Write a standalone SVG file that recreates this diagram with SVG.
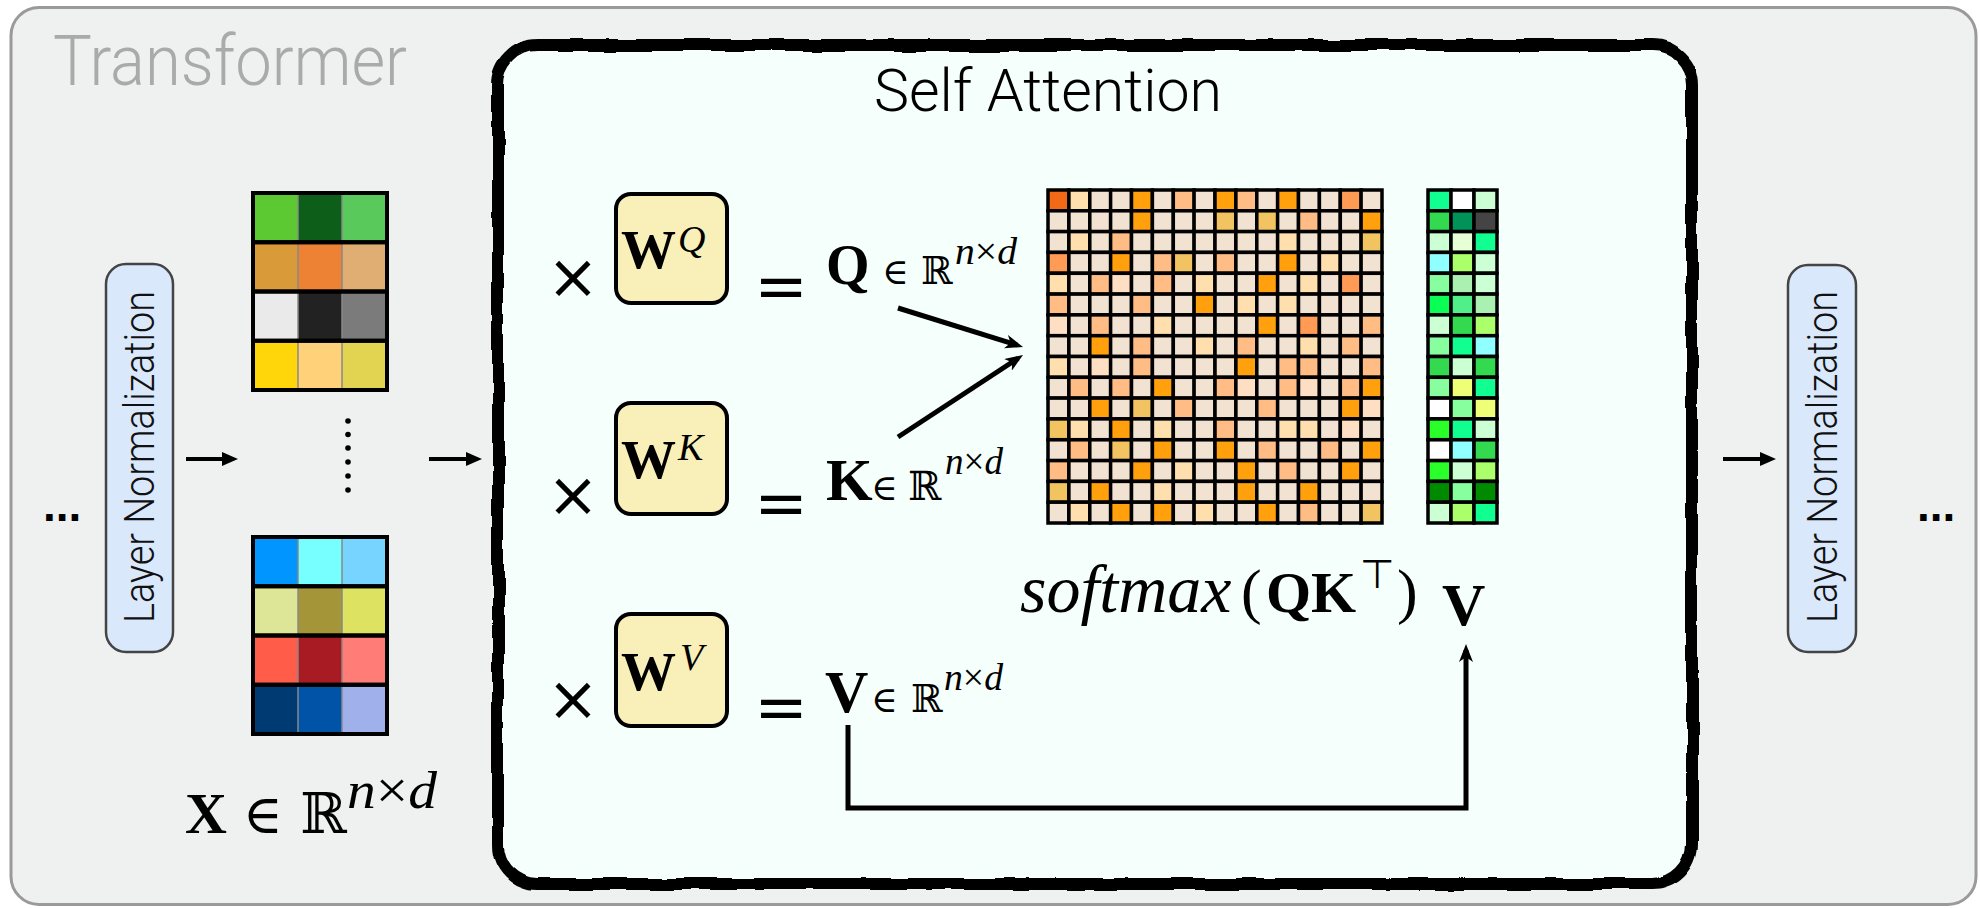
<svg xmlns="http://www.w3.org/2000/svg" width="1980" height="908" viewBox="0 0 1980 908">
<style>
.outer{fill:#eff0f0;stroke:#9a9a9a;stroke-width:3}
.safill{fill:#f5fffb}
.saborder{fill:none;stroke:#000;stroke-width:12}
.ln{fill:#dae8fc;stroke:#444;stroke-width:2.5}
.lntxt{font-family:Roboto,"Liberation Sans",sans-serif;font-weight:300;font-size:42px;fill:#111}
.wbox{fill:#f9efb8;stroke:#000;stroke-width:4}
.bold{font-family:"Liberation Serif","DejaVu Serif",serif;font-weight:bold;fill:#000}
.it{font-family:"Liberation Serif","DejaVu Serif",serif;font-style:italic;fill:#000}
.sym{font-family:"DejaVu Sans",sans-serif;fill:#000}
.dsym{font-family:"DejaVu Serif",serif;fill:#000}
.am rect{stroke:#000;stroke-width:3.5}
.xm rect.cell{stroke:none}
.xm rect.row{fill:none;stroke:#000;stroke-width:4}
.xm line{stroke:#888;stroke-width:1.5}
.L{fill:#f2e2d2}.P{fill:#ffdfae}.S{fill:#ffbc84}.O{fill:#ffa00c}.Y{fill:#f2c461}.D{fill:#ff9b55}.R{fill:#f26a18}.Q{fill:#ffdfc4}
.sg{fill:#10ff90}.wh{fill:#ffffff}.pg{fill:#ccffd4}.mg{fill:#33d94f}.dg{fill:#009258}.gy{fill:#444444}.lg{fill:#e6ffd6}.cy{fill:#90ffff}.ch{fill:#aaff6a}.mt{fill:#88ff9e}.sa{fill:#aaf0b0}.br{fill:#0aff55}.md{fill:#50ef8a}.ye{fill:#eeff77}.lm{fill:#2aff2a}.fo{fill:#008a00}
.conn line,.conn path{fill:none;stroke:#000}
</style>
<defs>
<marker id="tri" markerUnits="userSpaceOnUse" viewBox="0 0 16 14" markerWidth="16" markerHeight="14" refX="11" refY="7" orient="auto"><path d="M0,0 L16,7 L0,14 z" fill="#000"/></marker>
<marker id="stealth" markerUnits="userSpaceOnUse" viewBox="0 0 18 14" markerWidth="18" markerHeight="14" refX="12" refY="7" orient="auto"><path d="M0,0 L18,7 L0,14 L5,7 z" fill="#000"/></marker>
<filter id="rough" x="-5%" y="-5%" width="110%" height="110%"><feTurbulence type="fractalNoise" baseFrequency="0.025" numOctaves="2" seed="3"/><feDisplacementMap in="SourceGraphic" scale="6" xChannelSelector="R" yChannelSelector="G"/></filter>
</defs>

<g id="transformer">
<rect class="outer" x="11" y="7.5" width="1965" height="897" rx="28"/>
<text x="53" y="85" font-family="Roboto,'Liberation Sans',sans-serif" font-weight="300" font-size="70" fill="#aaaaaa" textLength="354" lengthAdjust="spacingAndGlyphs">Transformer</text>
</g>

<g id="dots-left"><text x="43" y="521" font-family="'Liberation Sans',sans-serif" font-weight="bold" font-size="46" fill="#000">...</text></g>
<g id="dots-right"><text x="1917" y="521" font-family="'Liberation Sans',sans-serif" font-weight="bold" font-size="46" fill="#000">...</text></g>

<g id="layernorm-left">
<rect class="ln" x="106" y="264" width="67" height="388" rx="20"/>
<text class="lntxt" transform="translate(154,457) rotate(-90)" text-anchor="middle" textLength="332" lengthAdjust="spacingAndGlyphs">Layer Normalization</text>
</g>
<g id="layernorm-right">
<rect class="ln" x="1788" y="265" width="68" height="387" rx="20"/>
<text class="lntxt" transform="translate(1837,457) rotate(-90)" text-anchor="middle" textLength="332" lengthAdjust="spacingAndGlyphs">Layer Normalization</text>
</g>

<g id="x-matrix" class="xm">
<g>
<rect class="cell" x="253" y="193" width="45" height="49.25" fill="#5dc932"/><rect class="cell" x="298" y="193" width="44" height="49.25" fill="#0d5e18"/><rect class="cell" x="342" y="193" width="45" height="49.25" fill="#58c95a"/>
<rect class="cell" x="253" y="242.25" width="45" height="49.25" fill="#d99a3a"/><rect class="cell" x="298" y="242.25" width="44" height="49.25" fill="#ed8235"/><rect class="cell" x="342" y="242.25" width="45" height="49.25" fill="#e0ae72"/>
<rect class="cell" x="253" y="291.5" width="45" height="49.25" fill="#eaeaea"/><rect class="cell" x="298" y="291.5" width="44" height="49.25" fill="#222222"/><rect class="cell" x="342" y="291.5" width="45" height="49.25" fill="#7b7b7b"/>
<rect class="cell" x="253" y="340.75" width="45" height="49.25" fill="#ffd60a"/><rect class="cell" x="298" y="340.75" width="44" height="49.25" fill="#ffd27a"/><rect class="cell" x="342" y="340.75" width="45" height="49.25" fill="#e2d451"/>
<line x1="298" y1="193" x2="298" y2="390"/><line x1="342" y1="193" x2="342" y2="390"/>
<rect class="row" x="253" y="193" width="134" height="49.25"/><rect class="row" x="253" y="242.25" width="134" height="49.25"/><rect class="row" x="253" y="291.5" width="134" height="49.25"/><rect class="row" x="253" y="340.75" width="134" height="49.25"/>
</g>
<g fill="#000">
<circle cx="348" cy="421" r="2.8"/><circle cx="348" cy="434.5" r="2.8"/><circle cx="348" cy="448" r="2.8"/><circle cx="348" cy="462" r="2.8"/><circle cx="348" cy="476" r="2.8"/><circle cx="348" cy="490" r="2.8"/>
</g>
<g>
<rect class="cell" x="253" y="537" width="45" height="49.25" fill="#0095ff"/><rect class="cell" x="298" y="537" width="44" height="49.25" fill="#77ffff"/><rect class="cell" x="342" y="537" width="45" height="49.25" fill="#77d4ff"/>
<rect class="cell" x="253" y="586.25" width="45" height="49.25" fill="#dce696"/><rect class="cell" x="298" y="586.25" width="44" height="49.25" fill="#a39538"/><rect class="cell" x="342" y="586.25" width="45" height="49.25" fill="#dde360"/>
<rect class="cell" x="253" y="635.5" width="45" height="49.25" fill="#ff5c4a"/><rect class="cell" x="298" y="635.5" width="44" height="49.25" fill="#a91b22"/><rect class="cell" x="342" y="635.5" width="45" height="49.25" fill="#ff7c77"/>
<rect class="cell" x="253" y="684.75" width="45" height="49.25" fill="#003a73"/><rect class="cell" x="298" y="684.75" width="44" height="49.25" fill="#0053a6"/><rect class="cell" x="342" y="684.75" width="45" height="49.25" fill="#a0b0ea"/>
<line x1="298" y1="537" x2="298" y2="734"/><line x1="342" y1="537" x2="342" y2="734"/>
<rect class="row" x="253" y="537" width="134" height="49.25"/><rect class="row" x="253" y="586.25" width="134" height="49.25"/><rect class="row" x="253" y="635.5" width="134" height="49.25"/><rect class="row" x="253" y="684.75" width="134" height="49.25"/>
</g>
<text y="833"><tspan class="bold" x="185" font-size="58">X</tspan><tspan class="dsym" x="243" font-size="54">∈</tspan><tspan class="dsym" x="300" font-size="56">ℝ</tspan></text>
<text class="it" x="347" y="808" font-size="52" textLength="90" lengthAdjust="spacingAndGlyphs">n<tspan font-style="normal">×</tspan>d</text>
</g>

<g id="self-attention">
<rect class="safill" x="498" y="45" width="1194" height="839" rx="40"/>
<rect class="saborder" x="498" y="45" width="1194" height="839" rx="40" filter="url(#rough)"/>
<text x="874" y="111" font-family="Roboto,'Liberation Sans',sans-serif" font-weight="300" font-size="59" fill="#000" textLength="348" lengthAdjust="spacingAndGlyphs">Self Attention</text>
</g>

<g id="wq">
<text class="sym" x="573" y="298" font-size="62" text-anchor="middle">×</text>
<rect class="wbox" x="616" y="194" width="111" height="109" rx="15"/>
<text class="bold" x="621" y="268" font-size="55">W</text><text class="it" x="678" y="252" font-size="38">Q</text>
<text class="sym" x="781" y="308" font-size="64" text-anchor="middle">=</text>
</g>
<g id="q">
<text y="284"><tspan class="bold" x="826" font-size="56">Q</tspan><tspan class="dsym" x="882" font-size="36">∈</tspan><tspan class="dsym" x="921" font-size="38">ℝ</tspan></text>
<text class="it" x="955" y="264" font-size="38" textLength="62" lengthAdjust="spacingAndGlyphs">n<tspan font-style="normal">×</tspan>d</text>
</g>

<g id="wk">
<text class="sym" x="573" y="516" font-size="62" text-anchor="middle">×</text>
<rect class="wbox" x="616" y="403" width="111" height="111" rx="15"/>
<text class="bold" x="621" y="478" font-size="55">W</text><text class="it" x="678" y="460" font-size="38">K</text>
<text class="sym" x="781" y="525" font-size="64" text-anchor="middle">=</text>
</g>
<g id="k">
<text y="500"><tspan class="bold" x="826" font-size="60">K</tspan><tspan class="dsym" x="871" font-size="36">∈</tspan><tspan class="dsym" x="908" font-size="40">ℝ</tspan></text>
<text class="it" x="945" y="474" font-size="38" textLength="58" lengthAdjust="spacingAndGlyphs">n<tspan font-style="normal">×</tspan>d</text>
</g>

<g id="wv">
<text class="sym" x="573" y="720" font-size="62" text-anchor="middle">×</text>
<rect class="wbox" x="616" y="614" width="111" height="112" rx="15"/>
<text class="bold" x="621" y="690" font-size="55">W</text><text class="it" x="680" y="670" font-size="38">V</text>
<text class="sym" x="781" y="729" font-size="64" text-anchor="middle">=</text>
</g>
<g id="v">
<text y="712"><tspan class="bold" x="825" font-size="60">V</tspan><tspan class="dsym" x="871" font-size="36">∈</tspan><tspan class="dsym" x="911" font-size="38">ℝ</tspan></text>
<text class="it" x="944" y="690" font-size="38" textLength="59" lengthAdjust="spacingAndGlyphs">n<tspan font-style="normal">×</tspan>d</text>
</g>

<g id="attention-matrix" class="am">
<g transform="translate(1048,190)"><rect x="0" width="20.9" height="20.8" class="R"/><rect x="20.9" width="20.9" height="20.8" class="P"/><rect x="41.8" width="20.9" height="20.8" class="L"/><rect x="62.6" width="20.9" height="20.8" class="L"/><rect x="83.5" width="20.9" height="20.8" class="O"/><rect x="104.4" width="20.9" height="20.8" class="L"/><rect x="125.3" width="20.9" height="20.8" class="S"/><rect x="146.1" width="20.9" height="20.8" class="L"/><rect x="167" width="20.9" height="20.8" class="O"/><rect x="187.9" width="20.9" height="20.8" class="S"/><rect x="208.8" width="20.9" height="20.8" class="L"/><rect x="229.6" width="20.9" height="20.8" class="O"/><rect x="250.5" width="20.9" height="20.8" class="L"/><rect x="271.4" width="20.9" height="20.8" class="L"/><rect x="292.3" width="20.9" height="20.8" class="D"/><rect x="313.1" width="20.9" height="20.8" class="L"/></g>
<g transform="translate(1048,210.8)"><rect x="0" width="20.9" height="20.8" class="L"/><rect x="20.9" width="20.9" height="20.8" class="L"/><rect x="41.8" width="20.9" height="20.8" class="L"/><rect x="62.6" width="20.9" height="20.8" class="L"/><rect x="83.5" width="20.9" height="20.8" class="O"/><rect x="104.4" width="20.9" height="20.8" class="L"/><rect x="125.3" width="20.9" height="20.8" class="L"/><rect x="146.1" width="20.9" height="20.8" class="L"/><rect x="167" width="20.9" height="20.8" class="Y"/><rect x="187.9" width="20.9" height="20.8" class="L"/><rect x="208.8" width="20.9" height="20.8" class="Y"/><rect x="229.6" width="20.9" height="20.8" class="L"/><rect x="250.5" width="20.9" height="20.8" class="S"/><rect x="271.4" width="20.9" height="20.8" class="L"/><rect x="292.3" width="20.9" height="20.8" class="L"/><rect x="313.1" width="20.9" height="20.8" class="O"/></g>
<g transform="translate(1048,231.6)"><rect x="0" width="20.9" height="20.8" class="L"/><rect x="20.9" width="20.9" height="20.8" class="P"/><rect x="41.8" width="20.9" height="20.8" class="L"/><rect x="62.6" width="20.9" height="20.8" class="S"/><rect x="83.5" width="20.9" height="20.8" class="L"/><rect x="104.4" width="20.9" height="20.8" class="L"/><rect x="125.3" width="20.9" height="20.8" class="L"/><rect x="146.1" width="20.9" height="20.8" class="L"/><rect x="167" width="20.9" height="20.8" class="L"/><rect x="187.9" width="20.9" height="20.8" class="L"/><rect x="208.8" width="20.9" height="20.8" class="L"/><rect x="229.6" width="20.9" height="20.8" class="P"/><rect x="250.5" width="20.9" height="20.8" class="L"/><rect x="271.4" width="20.9" height="20.8" class="L"/><rect x="292.3" width="20.9" height="20.8" class="L"/><rect x="313.1" width="20.9" height="20.8" class="Y"/></g>
<g transform="translate(1048,252.4)"><rect x="0" width="20.9" height="20.8" class="D"/><rect x="20.9" width="20.9" height="20.8" class="L"/><rect x="41.8" width="20.9" height="20.8" class="L"/><rect x="62.6" width="20.9" height="20.8" class="O"/><rect x="83.5" width="20.9" height="20.8" class="L"/><rect x="104.4" width="20.9" height="20.8" class="S"/><rect x="125.3" width="20.9" height="20.8" class="Y"/><rect x="146.1" width="20.9" height="20.8" class="L"/><rect x="167" width="20.9" height="20.8" class="S"/><rect x="187.9" width="20.9" height="20.8" class="L"/><rect x="208.8" width="20.9" height="20.8" class="L"/><rect x="229.6" width="20.9" height="20.8" class="O"/><rect x="250.5" width="20.9" height="20.8" class="L"/><rect x="271.4" width="20.9" height="20.8" class="P"/><rect x="292.3" width="20.9" height="20.8" class="L"/><rect x="313.1" width="20.9" height="20.8" class="L"/></g>
<g transform="translate(1048,273.3)"><rect x="0" width="20.9" height="20.8" class="P"/><rect x="20.9" width="20.9" height="20.8" class="L"/><rect x="41.8" width="20.9" height="20.8" class="S"/><rect x="62.6" width="20.9" height="20.8" class="Q"/><rect x="83.5" width="20.9" height="20.8" class="L"/><rect x="104.4" width="20.9" height="20.8" class="S"/><rect x="125.3" width="20.9" height="20.8" class="L"/><rect x="146.1" width="20.9" height="20.8" class="P"/><rect x="167" width="20.9" height="20.8" class="L"/><rect x="187.9" width="20.9" height="20.8" class="L"/><rect x="208.8" width="20.9" height="20.8" class="O"/><rect x="229.6" width="20.9" height="20.8" class="L"/><rect x="250.5" width="20.9" height="20.8" class="P"/><rect x="271.4" width="20.9" height="20.8" class="L"/><rect x="292.3" width="20.9" height="20.8" class="D"/><rect x="313.1" width="20.9" height="20.8" class="L"/></g>
<g transform="translate(1048,294.1)"><rect x="0" width="20.9" height="20.8" class="S"/><rect x="20.9" width="20.9" height="20.8" class="L"/><rect x="41.8" width="20.9" height="20.8" class="L"/><rect x="62.6" width="20.9" height="20.8" class="L"/><rect x="83.5" width="20.9" height="20.8" class="S"/><rect x="104.4" width="20.9" height="20.8" class="L"/><rect x="125.3" width="20.9" height="20.8" class="L"/><rect x="146.1" width="20.9" height="20.8" class="O"/><rect x="167" width="20.9" height="20.8" class="L"/><rect x="187.9" width="20.9" height="20.8" class="P"/><rect x="208.8" width="20.9" height="20.8" class="L"/><rect x="229.6" width="20.9" height="20.8" class="P"/><rect x="250.5" width="20.9" height="20.8" class="L"/><rect x="271.4" width="20.9" height="20.8" class="L"/><rect x="292.3" width="20.9" height="20.8" class="L"/><rect x="313.1" width="20.9" height="20.8" class="L"/></g>
<g transform="translate(1048,314.9)"><rect x="0" width="20.9" height="20.8" class="Q"/><rect x="20.9" width="20.9" height="20.8" class="L"/><rect x="41.8" width="20.9" height="20.8" class="S"/><rect x="62.6" width="20.9" height="20.8" class="L"/><rect x="83.5" width="20.9" height="20.8" class="L"/><rect x="104.4" width="20.9" height="20.8" class="P"/><rect x="125.3" width="20.9" height="20.8" class="L"/><rect x="146.1" width="20.9" height="20.8" class="L"/><rect x="167" width="20.9" height="20.8" class="L"/><rect x="187.9" width="20.9" height="20.8" class="L"/><rect x="208.8" width="20.9" height="20.8" class="O"/><rect x="229.6" width="20.9" height="20.8" class="L"/><rect x="250.5" width="20.9" height="20.8" class="D"/><rect x="271.4" width="20.9" height="20.8" class="L"/><rect x="292.3" width="20.9" height="20.8" class="L"/><rect x="313.1" width="20.9" height="20.8" class="S"/></g>
<g transform="translate(1048,335.7)"><rect x="0" width="20.9" height="20.8" class="L"/><rect x="20.9" width="20.9" height="20.8" class="L"/><rect x="41.8" width="20.9" height="20.8" class="O"/><rect x="62.6" width="20.9" height="20.8" class="L"/><rect x="83.5" width="20.9" height="20.8" class="S"/><rect x="104.4" width="20.9" height="20.8" class="L"/><rect x="125.3" width="20.9" height="20.8" class="L"/><rect x="146.1" width="20.9" height="20.8" class="P"/><rect x="167" width="20.9" height="20.8" class="L"/><rect x="187.9" width="20.9" height="20.8" class="S"/><rect x="208.8" width="20.9" height="20.8" class="L"/><rect x="229.6" width="20.9" height="20.8" class="L"/><rect x="250.5" width="20.9" height="20.8" class="P"/><rect x="271.4" width="20.9" height="20.8" class="L"/><rect x="292.3" width="20.9" height="20.8" class="S"/><rect x="313.1" width="20.9" height="20.8" class="L"/></g>
<g transform="translate(1048,356.5)"><rect x="0" width="20.9" height="20.8" class="P"/><rect x="20.9" width="20.9" height="20.8" class="L"/><rect x="41.8" width="20.9" height="20.8" class="Q"/><rect x="62.6" width="20.9" height="20.8" class="L"/><rect x="83.5" width="20.9" height="20.8" class="S"/><rect x="104.4" width="20.9" height="20.8" class="L"/><rect x="125.3" width="20.9" height="20.8" class="L"/><rect x="146.1" width="20.9" height="20.8" class="L"/><rect x="167" width="20.9" height="20.8" class="L"/><rect x="187.9" width="20.9" height="20.8" class="O"/><rect x="208.8" width="20.9" height="20.8" class="L"/><rect x="229.6" width="20.9" height="20.8" class="S"/><rect x="250.5" width="20.9" height="20.8" class="S"/><rect x="271.4" width="20.9" height="20.8" class="L"/><rect x="292.3" width="20.9" height="20.8" class="L"/><rect x="313.1" width="20.9" height="20.8" class="S"/></g>
<g transform="translate(1048,377.3)"><rect x="0" width="20.9" height="20.8" class="L"/><rect x="20.9" width="20.9" height="20.8" class="S"/><rect x="41.8" width="20.9" height="20.8" class="L"/><rect x="62.6" width="20.9" height="20.8" class="S"/><rect x="83.5" width="20.9" height="20.8" class="L"/><rect x="104.4" width="20.9" height="20.8" class="O"/><rect x="125.3" width="20.9" height="20.8" class="L"/><rect x="146.1" width="20.9" height="20.8" class="L"/><rect x="167" width="20.9" height="20.8" class="S"/><rect x="187.9" width="20.9" height="20.8" class="Q"/><rect x="208.8" width="20.9" height="20.8" class="L"/><rect x="229.6" width="20.9" height="20.8" class="S"/><rect x="250.5" width="20.9" height="20.8" class="Q"/><rect x="271.4" width="20.9" height="20.8" class="L"/><rect x="292.3" width="20.9" height="20.8" class="S"/><rect x="313.1" width="20.9" height="20.8" class="O"/></g>
<g transform="translate(1048,398.1)"><rect x="0" width="20.9" height="20.8" class="L"/><rect x="20.9" width="20.9" height="20.8" class="L"/><rect x="41.8" width="20.9" height="20.8" class="O"/><rect x="62.6" width="20.9" height="20.8" class="L"/><rect x="83.5" width="20.9" height="20.8" class="Y"/><rect x="104.4" width="20.9" height="20.8" class="L"/><rect x="125.3" width="20.9" height="20.8" class="S"/><rect x="146.1" width="20.9" height="20.8" class="L"/><rect x="167" width="20.9" height="20.8" class="L"/><rect x="187.9" width="20.9" height="20.8" class="L"/><rect x="208.8" width="20.9" height="20.8" class="S"/><rect x="229.6" width="20.9" height="20.8" class="L"/><rect x="250.5" width="20.9" height="20.8" class="L"/><rect x="271.4" width="20.9" height="20.8" class="L"/><rect x="292.3" width="20.9" height="20.8" class="O"/><rect x="313.1" width="20.9" height="20.8" class="Q"/></g>
<g transform="translate(1048,418.9)"><rect x="0" width="20.9" height="20.8" class="Y"/><rect x="20.9" width="20.9" height="20.8" class="P"/><rect x="41.8" width="20.9" height="20.8" class="L"/><rect x="62.6" width="20.9" height="20.8" class="O"/><rect x="83.5" width="20.9" height="20.8" class="L"/><rect x="104.4" width="20.9" height="20.8" class="P"/><rect x="125.3" width="20.9" height="20.8" class="L"/><rect x="146.1" width="20.9" height="20.8" class="L"/><rect x="167" width="20.9" height="20.8" class="S"/><rect x="187.9" width="20.9" height="20.8" class="L"/><rect x="208.8" width="20.9" height="20.8" class="L"/><rect x="229.6" width="20.9" height="20.8" class="P"/><rect x="250.5" width="20.9" height="20.8" class="P"/><rect x="271.4" width="20.9" height="20.8" class="L"/><rect x="292.3" width="20.9" height="20.8" class="Q"/><rect x="313.1" width="20.9" height="20.8" class="L"/></g>
<g transform="translate(1048,439.8)"><rect x="0" width="20.9" height="20.8" class="L"/><rect x="20.9" width="20.9" height="20.8" class="S"/><rect x="41.8" width="20.9" height="20.8" class="L"/><rect x="62.6" width="20.9" height="20.8" class="Y"/><rect x="83.5" width="20.9" height="20.8" class="L"/><rect x="104.4" width="20.9" height="20.8" class="O"/><rect x="125.3" width="20.9" height="20.8" class="L"/><rect x="146.1" width="20.9" height="20.8" class="L"/><rect x="167" width="20.9" height="20.8" class="O"/><rect x="187.9" width="20.9" height="20.8" class="L"/><rect x="208.8" width="20.9" height="20.8" class="S"/><rect x="229.6" width="20.9" height="20.8" class="L"/><rect x="250.5" width="20.9" height="20.8" class="L"/><rect x="271.4" width="20.9" height="20.8" class="S"/><rect x="292.3" width="20.9" height="20.8" class="L"/><rect x="313.1" width="20.9" height="20.8" class="O"/></g>
<g transform="translate(1048,460.6)"><rect x="0" width="20.9" height="20.8" class="S"/><rect x="20.9" width="20.9" height="20.8" class="L"/><rect x="41.8" width="20.9" height="20.8" class="L"/><rect x="62.6" width="20.9" height="20.8" class="L"/><rect x="83.5" width="20.9" height="20.8" class="O"/><rect x="104.4" width="20.9" height="20.8" class="L"/><rect x="125.3" width="20.9" height="20.8" class="P"/><rect x="146.1" width="20.9" height="20.8" class="L"/><rect x="167" width="20.9" height="20.8" class="L"/><rect x="187.9" width="20.9" height="20.8" class="O"/><rect x="208.8" width="20.9" height="20.8" class="L"/><rect x="229.6" width="20.9" height="20.8" class="S"/><rect x="250.5" width="20.9" height="20.8" class="L"/><rect x="271.4" width="20.9" height="20.8" class="L"/><rect x="292.3" width="20.9" height="20.8" class="O"/><rect x="313.1" width="20.9" height="20.8" class="L"/></g>
<g transform="translate(1048,481.4)"><rect x="0" width="20.9" height="20.8" class="Y"/><rect x="20.9" width="20.9" height="20.8" class="L"/><rect x="41.8" width="20.9" height="20.8" class="O"/><rect x="62.6" width="20.9" height="20.8" class="L"/><rect x="83.5" width="20.9" height="20.8" class="L"/><rect x="104.4" width="20.9" height="20.8" class="P"/><rect x="125.3" width="20.9" height="20.8" class="L"/><rect x="146.1" width="20.9" height="20.8" class="L"/><rect x="167" width="20.9" height="20.8" class="L"/><rect x="187.9" width="20.9" height="20.8" class="O"/><rect x="208.8" width="20.9" height="20.8" class="L"/><rect x="229.6" width="20.9" height="20.8" class="L"/><rect x="250.5" width="20.9" height="20.8" class="O"/><rect x="271.4" width="20.9" height="20.8" class="L"/><rect x="292.3" width="20.9" height="20.8" class="L"/><rect x="313.1" width="20.9" height="20.8" class="L"/></g>
<g transform="translate(1048,502.2)"><rect x="0" width="20.9" height="20.8" class="L"/><rect x="20.9" width="20.9" height="20.8" class="P"/><rect x="41.8" width="20.9" height="20.8" class="L"/><rect x="62.6" width="20.9" height="20.8" class="O"/><rect x="83.5" width="20.9" height="20.8" class="L"/><rect x="104.4" width="20.9" height="20.8" class="O"/><rect x="125.3" width="20.9" height="20.8" class="L"/><rect x="146.1" width="20.9" height="20.8" class="P"/><rect x="167" width="20.9" height="20.8" class="L"/><rect x="187.9" width="20.9" height="20.8" class="L"/><rect x="208.8" width="20.9" height="20.8" class="O"/><rect x="229.6" width="20.9" height="20.8" class="L"/><rect x="250.5" width="20.9" height="20.8" class="S"/><rect x="271.4" width="20.9" height="20.8" class="L"/><rect x="292.3" width="20.9" height="20.8" class="L"/><rect x="313.1" width="20.9" height="20.8" class="Y"/></g>
</g>

<g id="value-matrix" class="am">
<g transform="translate(1428,190)"><rect x="0" width="23" height="20.8" class="sg"/><rect x="23" width="23" height="20.8" class="wh"/><rect x="46" width="23" height="20.8" class="pg"/></g>
<g transform="translate(1428,210.8)"><rect x="0" width="23" height="20.8" class="mg"/><rect x="23" width="23" height="20.8" class="dg"/><rect x="46" width="23" height="20.8" class="gy"/></g>
<g transform="translate(1428,231.6)"><rect x="0" width="23" height="20.8" class="pg"/><rect x="23" width="23" height="20.8" class="lg"/><rect x="46" width="23" height="20.8" class="sg"/></g>
<g transform="translate(1428,252.4)"><rect x="0" width="23" height="20.8" class="cy"/><rect x="23" width="23" height="20.8" class="ch"/><rect x="46" width="23" height="20.8" class="pg"/></g>
<g transform="translate(1428,273.3)"><rect x="0" width="23" height="20.8" class="mt"/><rect x="23" width="23" height="20.8" class="sa"/><rect x="46" width="23" height="20.8" class="pg"/></g>
<g transform="translate(1428,294.1)"><rect x="0" width="23" height="20.8" class="br"/><rect x="23" width="23" height="20.8" class="md"/><rect x="46" width="23" height="20.8" class="sa"/></g>
<g transform="translate(1428,314.9)"><rect x="0" width="23" height="20.8" class="pg"/><rect x="23" width="23" height="20.8" class="mg"/><rect x="46" width="23" height="20.8" class="ch"/></g>
<g transform="translate(1428,335.7)"><rect x="0" width="23" height="20.8" class="mt"/><rect x="23" width="23" height="20.8" class="sg"/><rect x="46" width="23" height="20.8" class="cy"/></g>
<g transform="translate(1428,356.5)"><rect x="0" width="23" height="20.8" class="mg"/><rect x="23" width="23" height="20.8" class="pg"/><rect x="46" width="23" height="20.8" class="mg"/></g>
<g transform="translate(1428,377.3)"><rect x="0" width="23" height="20.8" class="mt"/><rect x="23" width="23" height="20.8" class="ye"/><rect x="46" width="23" height="20.8" class="sg"/></g>
<g transform="translate(1428,398.1)"><rect x="0" width="23" height="20.8" class="wh"/><rect x="23" width="23" height="20.8" class="mt"/><rect x="46" width="23" height="20.8" class="ye"/></g>
<g transform="translate(1428,418.9)"><rect x="0" width="23" height="20.8" class="lm"/><rect x="23" width="23" height="20.8" class="sg"/><rect x="46" width="23" height="20.8" class="pg"/></g>
<g transform="translate(1428,439.8)"><rect x="0" width="23" height="20.8" class="wh"/><rect x="23" width="23" height="20.8" class="cy"/><rect x="46" width="23" height="20.8" class="mg"/></g>
<g transform="translate(1428,460.6)"><rect x="0" width="23" height="20.8" class="lm"/><rect x="23" width="23" height="20.8" class="pg"/><rect x="46" width="23" height="20.8" class="ch"/></g>
<g transform="translate(1428,481.4)"><rect x="0" width="23" height="20.8" class="fo"/><rect x="23" width="23" height="20.8" class="mt"/><rect x="46" width="23" height="20.8" class="fo"/></g>
<g transform="translate(1428,502.2)"><rect x="0" width="23" height="20.8" class="pg"/><rect x="23" width="23" height="20.8" class="ch"/><rect x="46" width="23" height="20.8" class="sg"/></g>
</g>

<g id="softmax-label">
<text y="612"><tspan class="it" x="1020" font-size="68">softmax</tspan><tspan x="1241" font-family="'Liberation Serif',serif" font-size="62">(</tspan><tspan class="bold" x="1266" font-size="58">QK</tspan></text>
<text class="sym" x="1360" y="588" font-size="40">⊤</text>
<text x="1397" y="612" font-family="'Liberation Serif',serif" font-size="62">)</text>
<text class="bold" x="1442" y="625" font-size="60">V</text>
</g>

<g id="connectors" class="conn">
<line x1="186" y1="459" x2="233" y2="459" stroke-width="4" marker-end="url(#tri)"/>
<line x1="429" y1="459" x2="477" y2="459" stroke-width="4" marker-end="url(#tri)"/>
<line x1="1723" y1="459" x2="1771" y2="459" stroke-width="4" marker-end="url(#tri)"/>
<line x1="898" y1="308" x2="1017.3" y2="345.2" stroke-width="5" marker-end="url(#stealth)"/>
<line x1="898" y1="437" x2="1018" y2="358.3" stroke-width="5" marker-end="url(#stealth)"/>
<path d="M848,725 V808 H1466 V650" stroke-width="5" marker-end="url(#stealth)"/>
</g>
</svg>
